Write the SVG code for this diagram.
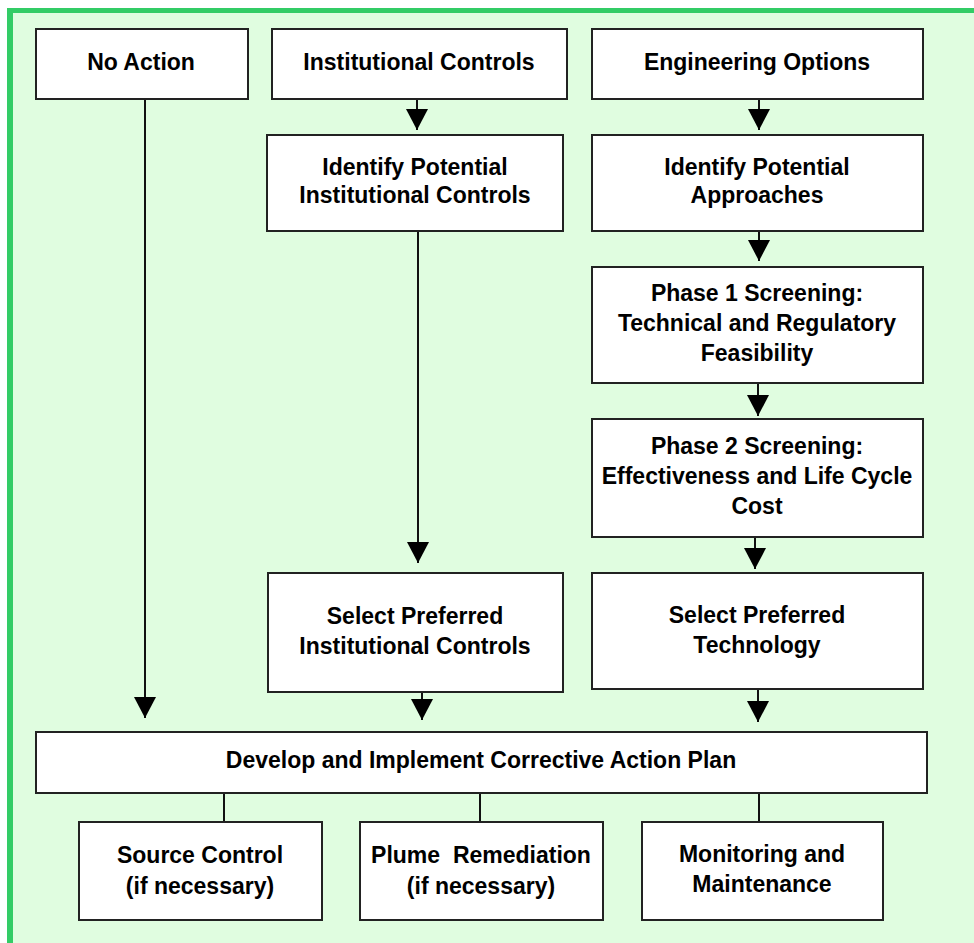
<svg xmlns="http://www.w3.org/2000/svg" width="974" height="943" viewBox="0 0 974 943">
<style>
.box{fill:#ffffff;stroke:#222222;stroke-width:2}
.ln{fill:none;stroke:#111111;stroke-width:2}
text{font-family:"Liberation Sans",Arial,sans-serif;font-weight:bold;font-size:23px;fill:#000000;text-anchor:middle}
</style>
<defs>
<marker id="ah" markerUnits="userSpaceOnUse" markerWidth="22" markerHeight="21" refX="10" refY="19" orient="0" viewBox="0 0 20 19" overflow="visible">
<path d="M0,0 L20,0 L10,19 Z" fill="#000000"/>
</marker>
</defs>
<rect x="0" y="0" width="974" height="943" fill="#ffffff"/>
<rect x="7" y="8" width="967" height="935" fill="#33cc66"/>
<rect x="13" y="13" width="961" height="930" fill="#e0fde0"/>

<g id="connectors">
<line class="ln" x1="145" y1="99" x2="145" y2="718" marker-end="url(#ah)"/>
<line class="ln" x1="417" y1="99" x2="417" y2="130" marker-end="url(#ah)"/>
<line class="ln" x1="418" y1="231" x2="418" y2="563" marker-end="url(#ah)"/>
<line class="ln" x1="422" y1="692" x2="422" y2="720" marker-end="url(#ah)"/>
<line class="ln" x1="759" y1="99" x2="759" y2="130" marker-end="url(#ah)"/>
<line class="ln" x1="759" y1="231" x2="759" y2="261" marker-end="url(#ah)"/>
<line class="ln" x1="758" y1="383" x2="758" y2="416" marker-end="url(#ah)"/>
<line class="ln" x1="755" y1="537" x2="755" y2="569" marker-end="url(#ah)"/>
<line class="ln" x1="758" y1="689" x2="758" y2="722" marker-end="url(#ah)"/>
<line class="ln" x1="224" y1="793" x2="224" y2="822"/>
<line class="ln" x1="480" y1="793" x2="480" y2="822"/>
<line class="ln" x1="759" y1="793" x2="759" y2="822"/>
</g>

<g id="no-action">
<rect class="box" x="36" y="29" width="212" height="70"/>
<text x="141" y="70">No Action</text>
</g>
<g id="institutional-controls">
<rect class="box" x="272" y="29" width="295" height="70"/>
<text x="419" y="70">Institutional Controls</text>
</g>
<g id="engineering-options">
<rect class="box" x="592" y="29" width="331" height="70"/>
<text x="757" y="70">Engineering Options</text>
</g>
<g id="identify-inst">
<rect class="box" x="267" y="135" width="296" height="96"/>
<text x="415" y="175">Identify Potential</text>
<text x="415" y="203">Institutional Controls</text>
</g>
<g id="identify-approaches">
<rect class="box" x="592" y="135" width="331" height="96"/>
<text x="757" y="175">Identify Potential</text>
<text x="757" y="203">Approaches</text>
</g>
<g id="phase1">
<rect class="box" x="592" y="267" width="331" height="116"/>
<text x="757" y="301">Phase 1 Screening:</text>
<text x="757" y="331">Technical and Regulatory</text>
<text x="757" y="361">Feasibility</text>
</g>
<g id="phase2">
<rect class="box" x="592" y="419" width="331" height="118"/>
<text x="757" y="454">Phase 2 Screening:</text>
<text x="757" y="484">Effectiveness and Life Cycle</text>
<text x="757" y="514">Cost</text>
</g>
<g id="select-inst">
<rect class="box" x="268" y="573" width="295" height="119"/>
<text x="415" y="624">Select Preferred</text>
<text x="415" y="654">Institutional Controls</text>
</g>
<g id="select-tech">
<rect class="box" x="592" y="573" width="331" height="116"/>
<text x="757" y="623">Select Preferred</text>
<text x="757" y="653">Technology</text>
</g>
<g id="develop">
<rect class="box" x="36" y="732" width="891" height="61"/>
<text x="481" y="768">Develop and Implement Corrective Action Plan</text>
</g>
<g id="source-control">
<rect class="box" x="79" y="822" width="243" height="98"/>
<text x="200" y="863">Source Control</text>
<text x="200" y="894">(if necessary)</text>
</g>
<g id="plume-remediation">
<rect class="box" x="360" y="822" width="243" height="98"/>
<text x="481" y="863" xml:space="preserve">Plume  Remediation</text>
<text x="481" y="894">(if necessary)</text>
</g>
<g id="monitoring">
<rect class="box" x="642" y="822" width="241" height="98"/>
<text x="762" y="862">Monitoring and</text>
<text x="762" y="892">Maintenance</text>
</g>
</svg>
